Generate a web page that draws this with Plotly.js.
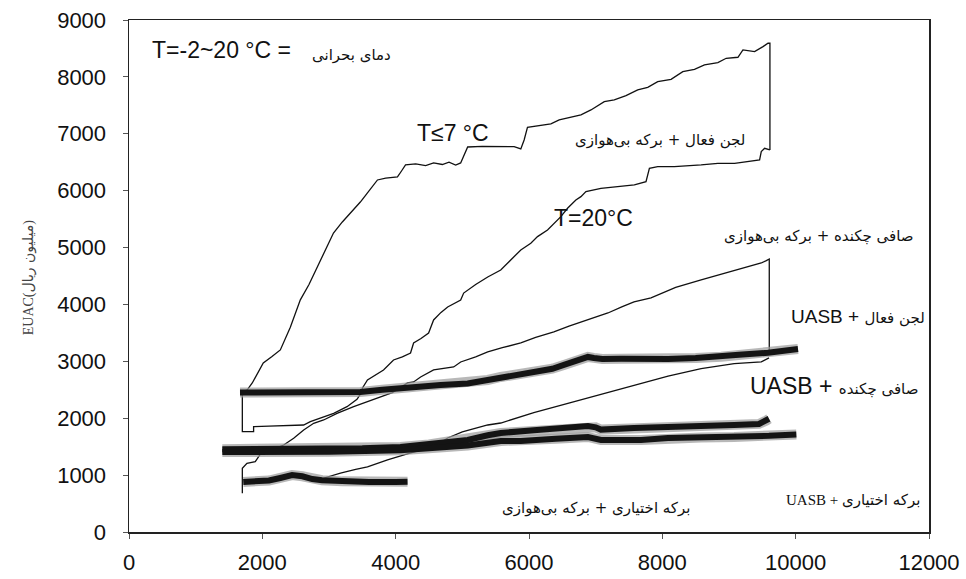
<!DOCTYPE html>
<html>
<head>
<meta charset="utf-8">
<script src="https://cdn.plot.ly/plotly-3.0.1.min.js"></script>
<style>html,body{margin:0;padding:0;background:#fff;}#chart{width:966px;height:579px;}</style>
</head>
<body>
<div id="chart"></div>
<script>
// Activated sludge + anaerobic pond, T<=7 °C (upper edge, closed at the end)
const asAnHiX = [1700,1774,1849,1930,2014,2140,2270,2420,2570,2700,2826,2950,3067,3200,3367,3470,3577,3727,3850,4027,4090,4148,4300,4450,4569,4700,4800,4900,4975,5030,5080,5300,5576,5777,5877,5927,5977,6128,6328,6453,6628,6779,6929,7129,7279,7455,7631,7781,7931,8131,8307,8482,8632,8833,8958,9134,9209,9384,9510,9585,9614,9614];
const asAnHiY = [2460,2500,2620,2800,2970,3080,3200,3600,4080,4350,4660,4950,5256,5450,5660,5800,5960,6188,6220,6241,6350,6452,6470,6440,6487,6460,6500,6450,6487,6620,6768,6780,6774,6774,6733,6891,7114,7137,7173,7243,7290,7331,7419,7565,7595,7670,7770,7817,7916,7958,8093,8134,8210,8251,8327,8345,8474,8444,8532,8591,8591,6716];
// Activated sludge + anaerobic pond, T=20 °C (lower edge)
const asAnLoX = [1700,1700,1869,1869,2100,2400,2619,2720,2870,3070,3270,3420,3480,3502,3577,3700,3818,3968,4100,4223,4269,4380,4494,4569,4680,4780,4900,4975,5020,5200,5381,5480,5576,5677,5777,5877,6027,6128,6278,6378,6478,6578,6703,6779,6854,7079,7330,7580,7755,7806,7931,8181,8582,8833,9084,9284,9459,9484,9534,9614];
const asAnLoY = [2460,1763,1763,1851,1860,1870,1881,1939,1998,2086,2203,2332,2440,2531,2672,2760,2848,3024,3080,3147,3323,3400,3498,3727,3860,3956,4040,4079,4200,4350,4483,4540,4606,4724,4840,4958,5075,5192,5309,5427,5544,5691,5837,5895,5983,6042,6071,6100,6159,6394,6423,6423,6452,6481,6481,6510,6540,6686,6745,6716];
// Trickling filter + anaerobic pond (thin curve, closed at the end)
const tfAnX = [1700,1700,1769,1894,2000,2200,2320,2470,2620,2770,2920,3120,3370,3550,3720,3950,4178,4269,4374,4569,4870,4975,5200,5381,5600,5877,6100,6373,6600,6884,7184,7400,7575,7830,8200,8582,8850,9078,9300,9484,9560,9604,9604];
const tfAnY = [680,1120,1208,1236,1420,1470,1529,1647,1793,1911,1969,2086,2203,2280,2350,2450,2620,2637,2725,2848,2901,2989,3080,3165,3240,3323,3420,3516,3620,3727,3850,3960,4044,4114,4300,4430,4520,4606,4680,4729,4770,4798,3163];
// Facultative pond + anaerobic pond (thin curve)
const fpAnX = [2826,3000,3172,3400,3577,3878,4200,4569,4724,4780,5000,5381,5576,6072,6583,7079,7575,8086,8582,9078,9484,9600];
const fpAnY = [914,975,1037,1100,1143,1266,1380,1494,1600,1652,1760,1881,1916,2100,2260,2420,2580,2740,2870,2960,2990,3060];
// Activated sludge + UASB (thick band)
const asUaX = [1665,2000,2500,3000,3470,3800,4073,4400,4674,5080,5381,5576,5900,6132,6350,6523,6700,6884,6974,7100,7380,7680,8086,8500,8883,9200,9585,10035];
const asUaY = [2450,2448,2450,2455,2462,2500,2531,2560,2584,2610,2672,2725,2770,2813,2870,2936,3000,3077,3060,3040,3045,3041,3040,3060,3082,3120,3150,3215];
// Trickling filter + UASB (two thick bands)
const tfUa1X = [1400,2000,2500,3000,3500,4073,4500,5080,5381,5576,6072,6583,6884,7000,7079,7575,8086,8582,9078,9450,9560,9600];
const tfUa1Y = [1455,1455,1460,1462,1470,1494,1540,1617,1700,1740,1790,1828,1863,1840,1800,1828,1840,1860,1881,1900,1960,1990];
const tfUa2X = [1400,2000,3000,4073,4600,5080,5576,5877,6400,6884,7079,7680,8086,8582,9078,9600,10010];
const tfUa2Y = [1405,1400,1410,1435,1470,1520,1600,1600,1640,1670,1617,1617,1652,1660,1670,1690,1715];
// Facultative pond + UASB (thick band)
const fpUaX = [1714,1900,2100,2270,2446,2600,2750,2896,3200,3600,4000,4178];
const fpUaY = [880,885,905,950,1000,980,930,910,890,880,880,885];

const thin = (x, y) => ({x, y, type: 'scatter', mode: 'lines', line: {color: '#111', width: 1.3}, hoverinfo: 'skip'});
const bandUnder = (x, y) => ({x, y, type: 'scatter', mode: 'lines', line: {color: '#9a9a9a', width: 10}, opacity: 0.7, hoverinfo: 'skip'});
const bandTop = (x, y) => ({x, y, type: 'scatter', mode: 'lines', line: {color: '#141414', width: 6}, hoverinfo: 'skip'});

const data = [
  thin(asAnHiX, asAnHiY), thin(asAnLoX, asAnLoY), thin(tfAnX, tfAnY), thin(fpAnX, fpAnY),
  bandUnder(asUaX, asUaY), bandUnder(tfUa1X, tfUa1Y), bandUnder(tfUa2X, tfUa2Y), bandUnder(fpUaX, fpUaY),
  bandTop(asUaX, asUaY), bandTop(tfUa1X, tfUa1Y), bandTop(tfUa2X, tfUa2Y), bandTop(fpUaX, fpUaY)
];

const latin = 'Liberation Sans, Arial, sans-serif';
const fa = 'DejaVu Sans, Noto Sans, sans-serif';
const ann = (text, x, y, xanchor, size, family) => ({text, x, y, xref: 'x', yref: 'y', xanchor, yanchor: 'middle', showarrow: false, font: {family, size, color: '#111'}});

const layout = {
  width: 966, height: 579,
  margin: {l: 129, r: 37, t: 20, b: 47},
  paper_bgcolor: '#fff', plot_bgcolor: '#fff',
  showlegend: false,
  xaxis: {range: [0, 12000], dtick: 2000, tick0: 0, tickformat: 'd', showgrid: false, zeroline: false, showline: true, mirror: true, linecolor: '#222', linewidth: 1.5, ticks: 'outside', ticklen: 5, tickcolor: '#555', ticklabelstandoff: 5, tickfont: {family: latin, size: 22, color: '#111'}},
  yaxis: {range: [0, 9000], dtick: 1000, tick0: 0, tickformat: 'd', showgrid: false, zeroline: false, showline: true, mirror: true, linecolor: '#222', linewidth: 1.5, ticks: 'outside', ticklen: 5, tickcolor: '#555', ticklabelstandoff: 12, tickfont: {family: latin, size: 22, color: '#111'}},
  annotations: [
    ann('T=-2~20 °C =', 315, 8474, 'left', 23, latin),
    ann('دمای بحرانی', 2715, 8380, 'left', 15, fa),
    ann('T≤7 °C', 4290, 7014, 'left', 23, latin),
    ann('T=20°C', 6345, 5520, 'left', 23, latin),
    ann('لجن فعال + برکه بی‌هوازی', 6660, 6891, 'left', 15, fa),
    ann('صافی چکنده + برکه بی‌هوازی', 8895, 5204, 'left', 15, fa),
    ann('UASB + <span style="font-family:DejaVu Sans;font-size:15px">لجن فعال</span>', 11970, 3780, 'right', 19, latin),
    ann('UASB + <span style="font-family:DejaVu Sans;font-size:15px">صافی چکنده</span>', 11865, 2567, 'right', 23, latin),
    ann('UASB + <span style="font-family:DejaVu Sans;font-size:15px">برکه اختیاری</span>', 11895, 563, 'right', 15, 'Liberation Serif, serif'),
    ann('برکه اختیاری + برکه بی‌هوازی', 5565, 422, 'left', 15, fa),
    {text: 'EUAC(<span style="font-family:DejaVu Sans">میلیون ریال</span>)', xref: 'paper', yref: 'paper', x: -0.126, y: 0.496, xanchor: 'center', yanchor: 'middle', textangle: -90, showarrow: false, font: {family: 'Liberation Serif, serif', size: 14, color: '#444'}}
  ]
};

Plotly.newPlot('chart', data, layout, {staticPlot: true, displayModeBar: false});
</script>
</body>
</html>
